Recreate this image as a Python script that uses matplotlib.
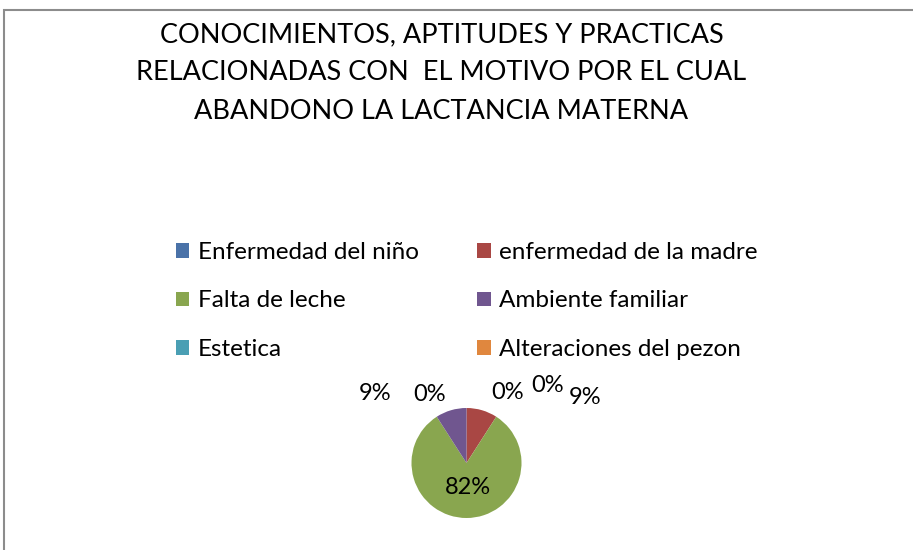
import matplotlib.pyplot as plt
from matplotlib.patches import Patch

# datos del grafico
categorias = ['Enfermedad del niño', 'enfermedad de la madre', 'Falta de leche',
              'Ambiente familiar', 'Estetica', 'Alteraciones del pezon']
valores = [0, 1, 9, 1, 0, 0]
etiquetas = ['0%', '9%', '82%', '9%', '0%', '0%']
colores = ['#4a72a8', '#a94744', '#89a64f', '#70568f', '#4a9fb4', '#e0873e']

# posicion de cada etiqueta (en radios del pastel)
pos_etiquetas = [(0.74, 1.29), (2.15, 1.20), (0.03, -0.45),
                 (-1.66, 1.27), (-0.68, 1.25), (1.48, 1.40)]

titulo = 'CONOCIMIENTOS, APTITUDES Y PRACTICAS\nRELACIONADAS CON  EL MOTIVO POR EL CUAL\nABANDONO LA LACTANCIA MATERNA'

plt.rcParams['font.family'] = ['Lato', 'DejaVu Sans']

W, H = 913, 550
fig = plt.figure(figsize=(W / 100, H / 100), dpi=100)

# marco del area del grafico
fig.add_artist(plt.Rectangle((4 / W, -0.1), 1.2, (H - 10.5) / H + 0.1,
                             transform=fig.transFigure, fill=False,
                             edgecolor='#8c8c8c', linewidth=1.5))

fig.text(441.5 / W, 1 - 73 / H, titulo, ha='center', va='center',
         fontsize=19.5, linespacing=1.68, color='black')

# pastel
cx, cy, r = 466.5, 463, 55
ax = fig.add_axes([(cx - r) / W, (H - cy - r) / H, 2 * r / W, 2 * r / H])
ax.pie(valores, colors=colores, startangle=90, counterclock=False,
       wedgeprops=dict(linewidth=0))
ax.set_xlim(-1, 1)
ax.set_ylim(-1, 1)
ax.set_aspect('equal')
ax.axis('off')
for txt, (x, y) in zip(etiquetas, pos_etiquetas):
    ax.text(x, y, txt, ha='center', va='center', fontsize=17, color='black')

# leyenda en dos columnas, llenada por filas
orden = [0, 2, 4, 1, 3, 5]
handles = [Patch(facecolor=colores[i], edgecolor='none') for i in orden]
fig.legend(handles, [categorias[i] for i in orden], ncol=2, loc='center left',
           frameon=False, bbox_to_anchor=(176 / W, 1 - 301 / H),
           borderpad=0, borderaxespad=0, fontsize=17.5,
           handlelength=0.55, handleheight=0.55, handletextpad=0.35,
           columnspacing=2.4, labelspacing=1.13)

plt.savefig('out.png', dpi=100)
